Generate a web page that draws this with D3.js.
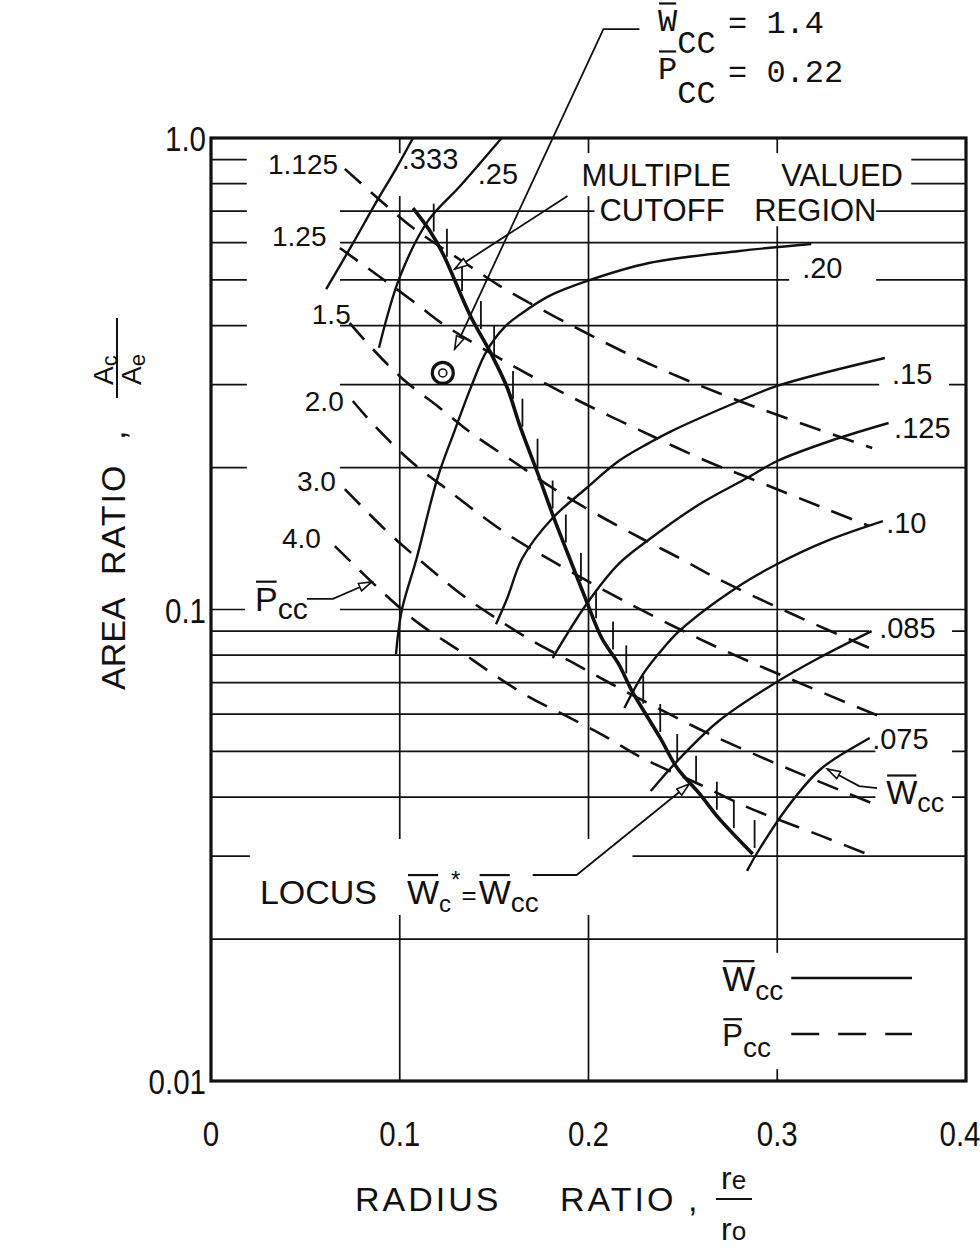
<!DOCTYPE html>
<html>
<head>
<meta charset="utf-8">
<script src="https://cdn.jsdelivr.net/npm/d3@7"></script>
<style>
body { margin: 0; background: #fff; }
text { font-family: "Liberation Sans", Arial, sans-serif; fill: #111; }
.mono { font-family: "Liberation Mono", "Courier New", monospace; }
</style>
</head>
<body>
<div id="chart"></div>
<script>
// ---- axes / grid ----
const xTicks = [0, 0.1, 0.2, 0.3, 0.4];
const xTickLabels = ["0", "0.1", "0.2", "0.3", "0.4"];
const yTicks = [1, 0.1, 0.01];
const yTickLabels = ["1.0", "0.1", "0.01"];
const hGrid = [0.9, 0.8, 0.7, 0.6, 0.5, 0.4, 0.3, 0.2, 0.1, 0.09, 0.08, 0.07, 0.06, 0.05, 0.04, 0.03, 0.02];
const vGrid = [0.1, 0.2, 0.3];

// ---- locus W*c = Wcc ----
const locusX = [0.107, 0.116, 0.123, 0.137, 0.149, 0.157, 0.164, 0.173, 0.181, 0.192, 0.199, 0.207, 0.216, 0.223, 0.238, 0.247, 0.259, 0.269, 0.287];
const locusY = [0.71, 0.635, 0.567, 0.423, 0.345, 0.295, 0.243, 0.195, 0.159, 0.1225, 0.104, 0.087, 0.0766, 0.0672, 0.0534, 0.0461, 0.0406, 0.0361, 0.0303];
const locusTickX = [0.118, 0.125, 0.133, 0.143, 0.150, 0.160, 0.165, 0.173, 0.181, 0.188, 0.196, 0.204, 0.213, 0.220, 0.229, 0.238, 0.247, 0.257, 0.268, 0.277, 0.288];

// ---- Wcc curves (solid) ----
const wccNames = [".333", ".25", ".20", ".15", ".125", ".10", ".085", ".075"];
const w333X = [0.061, 0.075, 0.087, 0.098, 0.107];
const w333Y = [0.478, 0.596, 0.725, 0.86, 1.0];
const w25X = [0.089, 0.100, 0.115, 0.132, 0.154];
const w25Y = [0.359, 0.507, 0.667, 0.791, 1.0];
const w20X = [0.098, 0.101, 0.109, 0.120, 0.129, 0.138, 0.146, 0.156, 0.164, 0.179, 0.199, 0.232, 0.280, 0.318];
const w20Y = [0.0804, 0.0993, 0.1286, 0.190, 0.239, 0.298, 0.353, 0.399, 0.423, 0.462, 0.497, 0.543, 0.576, 0.596];
const w15X = [0.151, 0.157, 0.165, 0.181, 0.199, 0.216, 0.232, 0.244, 0.280, 0.300, 0.357];
const w15Y = [0.0931, 0.1058, 0.1286, 0.1563, 0.181, 0.2065, 0.2254, 0.239, 0.2768, 0.298, 0.3415];
const w125X = [0.181, 0.199, 0.216, 0.231, 0.259, 0.284, 0.300, 0.328, 0.359];
const w125Y = [0.0789, 0.1027, 0.1249, 0.1397, 0.1674, 0.190, 0.2065, 0.2277, 0.2486];
const w10X = [0.219, 0.229, 0.238, 0.248, 0.278, 0.300, 0.326, 0.356];
const w10Y = [0.0618, 0.073, 0.0813, 0.090, 0.111, 0.1249, 0.1397, 0.154];
const w085X = [0.233, 0.247, 0.269, 0.298, 0.322, 0.350];
const w085Y = [0.0412, 0.0477, 0.058, 0.0695, 0.0789, 0.090];
const w075X = [0.284, 0.289, 0.305, 0.322, 0.331, 0.349];
const w075Y = [0.0279, 0.0303, 0.0379, 0.0455, 0.0484, 0.0534];
const wccLabelX = [0.1011, 0.1413, 0.3132, 0.3608, 0.3619, 0.3577, 0.354, 0.3503];
const wccLabelY = [0.86, 0.799, 0.505, 0.3008, 0.231, 0.1453, 0.087, 0.0506];

// ---- Pcc curves (dashed) ----
const pccNames = ["1.125", "1.25", "1.5", "2.0", "3.0", "4.0"];
const p1125X = [0.0709, 0.0894, 0.1079, 0.1354, 0.1566, 0.1937, 0.2323, 0.2799, 0.3503];
const p1125Y = [0.86, 0.739, 0.641, 0.5405, 0.476, 0.3954, 0.3317, 0.2768, 0.220];
const p125X = [0.0683, 0.091, 0.109, 0.1228, 0.1582, 0.1847, 0.2058, 0.227, 0.2624, 0.2852, 0.3259, 0.3487];
const p125Y = [0.5843, 0.5023, 0.4446, 0.4033, 0.3317, 0.2906, 0.2636, 0.2402, 0.2065, 0.190, 0.1634, 0.1503];
const p15X = [0.0735, 0.0857, 0.1016, 0.1212, 0.1386, 0.1598, 0.181, 0.2042, 0.2286, 0.2481, 0.2677, 0.3079, 0.3524];
const p15Y = [0.405, 0.3568, 0.3083, 0.2676, 0.2356, 0.2065, 0.181, 0.1594, 0.1411, 0.1286, 0.1166, 0.0978, 0.0817];
const p20X = [0.0751, 0.0868, 0.1069, 0.1249, 0.1434, 0.1593, 0.1788, 0.219, 0.2656, 0.3106, 0.354];
const p20Y = [0.2768, 0.245, 0.2045, 0.180, 0.158, 0.1425, 0.128, 0.1042, 0.0841, 0.0702, 0.0594];
const p30X = [0.0709, 0.0947, 0.1143, 0.1317, 0.1492, 0.1704, 0.19, 0.2122, 0.2376, 0.2672, 0.3101, 0.354];
const p30Y = [0.180, 0.1446, 0.1237, 0.1084, 0.0969, 0.0857, 0.0778, 0.0695, 0.0615, 0.0537, 0.0452, 0.0383];
const p40X = [0.0656, 0.0931, 0.1106, 0.1302, 0.1487, 0.1677, 0.1884, 0.2085, 0.2286, 0.2587, 0.2841, 0.3233, 0.3503];
const p40Y = [0.1363, 0.1068, 0.0931, 0.0825, 0.0733, 0.0655, 0.0594, 0.0539, 0.0484, 0.0426, 0.0381, 0.0331, 0.030];
const pccLabelX = [0.0302, 0.0323, 0.0534, 0.0497, 0.0455, 0.0376];
const pccLabelY = [0.839, 0.59, 0.403, 0.2636, 0.1784, 0.135];

// ---- design point and leaders (data units) ----
const pointX = 0.1228, pointY = 0.3175;
const leaderPoint = [[0.227, 1.702], [0.2079, 1.702], [0.1291, 0.3568]];
const leaderMulti = [[0.1889, 0.7536], [0.1291, 0.5275]];
const leaderLocus = [[0.1704, 0.02735], [0.1937, 0.02735], [0.2534, 0.04265]];
const leaderWcc = [[0.3529, 0.0418], [0.3434, 0.0422], [0.3265, 0.0459]];
const leaderPcc = [[0.0508, 0.1053], [0.0646, 0.1053], [0.0852, 0.1144]];

// cleared areas behind lettering [x0, x1, y0, y1]
const blanks = [
  [0.019, 0.0683, 0.187, 0.94],
  [0.018, 0.0683, 0.092, 0.109],
  [0.019, 0.371, 0.753, 0.929],
  [0.2032, 0.3524, 0.65, 0.772],
  [0.3063, 0.3524, 0.474, 0.562],
  [0.354, 0.391, 0.2837, 0.3285],
  [0.3487, 0.3926, 0.0837, 0.0969],
  [0.352, 0.3926, 0.0378, 0.0574],
  [0.0206, 0.2233, 0.0225, 0.0326],
  [0.2693, 0.3995, 0.0106, 0.0187]
];

const width = 980, height = 1249;
const svg = d3.select("#chart").append("svg")
  .attr("width", width).attr("height", height)
  .style("background", "#fff");

const x = d3.scaleLinear().domain([0, 0.4]).range([211, 966]);
const y = d3.scaleLog().domain([0.01, 1]).range([1081, 138]);

const zip = (xs, ys) => xs.map((v, i) => [v, ys[i]]);
const smooth = d3.line().x(d => x(d[0])).y(d => y(d[1])).curve(d3.curveCatmullRom.alpha(0.5));
const straight = d3.line().x(d => x(d[0])).y(d => y(d[1]));

const defs = svg.append("defs");
defs.append("marker")
  .attr("id", "arr").attr("markerUnits", "userSpaceOnUse")
  .attr("markerWidth", 16).attr("markerHeight", 12)
  .attr("refX", 14).attr("refY", 5).attr("orient", "auto")
  .append("path").attr("d", "M1,1 L14,5 L1,9 Z")
  .attr("fill", "#fff").attr("stroke", "#111").attr("stroke-width", 1.6);

// grid
svg.append("g").selectAll("line").data(hGrid).join("line")
  .attr("x1", x(0)).attr("x2", x(0.4))
  .attr("y1", d => y(d)).attr("y2", d => y(d))
  .attr("stroke", "#111").attr("stroke-width", 1.7);
svg.append("g").selectAll("line").data(vGrid).join("line")
  .attr("x1", d => x(d)).attr("x2", d => x(d))
  .attr("y1", y(1)).attr("y2", y(0.01))
  .attr("stroke", "#111").attr("stroke-width", 1.7);

svg.append("g").selectAll("rect").data(blanks).join("rect")
  .attr("x", d => x(d[0])).attr("width", d => x(d[1]) - x(d[0]))
  .attr("y", d => y(d[3])).attr("height", d => y(d[2]) - y(d[3]))
  .attr("fill", "#fff");

// Pcc dashed
const pccSeries = [zip(p1125X, p1125Y), zip(p125X, p125Y), zip(p15X, p15Y), zip(p20X, p20Y), zip(p30X, p30Y), zip(p40X, p40Y)];
svg.append("g").selectAll("path").data(pccSeries).join("path")
  .attr("d", smooth).attr("fill", "none")
  .attr("stroke", "#111").attr("stroke-width", 2.6)
  .attr("stroke-dasharray", "22,13");

// Wcc solid
const wccSeries = [zip(w333X, w333Y), zip(w25X, w25Y), zip(w20X, w20Y), zip(w15X, w15Y), zip(w125X, w125Y), zip(w10X, w10Y), zip(w085X, w085Y), zip(w075X, w075Y)];
svg.append("g").selectAll("path").data(wccSeries).join("path")
  .attr("d", smooth).attr("fill", "none")
  .attr("stroke", "#111").attr("stroke-width", 2.4);

// locus
const locus = zip(locusX, locusY);
svg.append("path").datum(locus).attr("d", smooth)
  .attr("fill", "none").attr("stroke", "#111").attr("stroke-width", 3.6);

function locusAt(v) {
  for (let i = 0; i < locusX.length - 1; i++) {
    if (v >= locusX[i] && v <= locusX[i + 1]) {
      const t = (v - locusX[i]) / (locusX[i + 1] - locusX[i]);
      return Math.pow(10, Math.log10(locusY[i]) + t * (Math.log10(locusY[i + 1]) - Math.log10(locusY[i])));
    }
  }
  return locusY[locusY.length - 1];
}
svg.append("g").selectAll("line").data(locusTickX).join("line")
  .attr("x1", d => x(d)).attr("x2", d => x(d))
  .attr("y1", d => y(locusAt(d)) - 6).attr("y2", d => y(locusAt(d)) - 34)
  .attr("stroke", "#111").attr("stroke-width", 1.8);

// leaders
[leaderPoint, leaderMulti, leaderLocus, leaderWcc, leaderPcc].forEach(pts => {
  svg.append("path").datum(pts).attr("d", straight)
    .attr("fill", "none").attr("stroke", "#111").attr("stroke-width", 1.8)
    .attr("marker-end", "url(#arr)");
});

// design point
svg.append("circle").attr("cx", x(pointX)).attr("cy", y(pointY)).attr("r", 10.5)
  .attr("fill", "#fff").attr("stroke", "#111").attr("stroke-width", 3.2);
svg.append("circle").attr("cx", x(pointX)).attr("cy", y(pointY)).attr("r", 4)
  .attr("fill", "none").attr("stroke", "#111").attr("stroke-width", 1.6);

// curve labels
svg.append("g").selectAll("text").data(wccNames).join("text")
  .attr("x", (d, i) => x(wccLabelX[i])).attr("y", (d, i) => y(wccLabelY[i]))
  .attr("font-size", 29).text(d => d);
svg.append("g").selectAll("text").data(pccNames).join("text")
  .attr("x", (d, i) => x(pccLabelX[i])).attr("y", (d, i) => y(pccLabelY[i]))
  .attr("font-size", 28).text(d => d);

// text with overbars: parts = {t, dx, dy, size, bar}
function richText(g, px, py, size, parts, cls) {
  const t = g.append("text").attr("x", px).attr("y", py).attr("font-size", size);
  if (cls) t.attr("class", cls);
  let idx = 0, base = py;
  const bars = [];
  parts.forEach(p => {
    const s = t.append("tspan").text(p.t);
    if (p.dx) s.attr("dx", p.dx);
    if (p.dy) { s.attr("dy", p.dy); base += p.dy; }
    if (p.size) s.attr("font-size", p.size);
    if (p.bar) bars.push([idx, idx + p.t.length - 1, base, p.size || size]);
    idx += p.t.length;
  });
  const node = t.node();
  bars.forEach(([a, b, bl, sz]) => {
    const ea = node.getExtentOfChar(a), eb = node.getExtentOfChar(b);
    const yb = bl - sz * 0.86;
    g.append("line").attr("x1", ea.x + 1).attr("x2", eb.x + eb.width - 1)
      .attr("y1", yb).attr("y2", yb).attr("stroke", "#111").attr("stroke-width", 2.2);
  });
  return t;
}

const ann = svg.append("g");
// multiple valued region
ann.append("text").attr("x", x(0.1963)).attr("y", y(0.791)).attr("font-size", 31).text("MULTIPLE");
ann.append("text").attr("x", x(0.3021)).attr("y", y(0.791)).attr("font-size", 31).text("VALUED");
ann.append("text").attr("x", x(0.2058)).attr("y", y(0.667)).attr("font-size", 31).text("CUTOFF");
ann.append("text").attr("x", x(0.2878)).attr("y", y(0.667)).attr("font-size", 31).text("REGION");

// typed note at top
richText(ann, 658, 31, 32, [{t: "W", bar: true}, {t: "CC", dy: 22}], "mono");
richText(ann, 728, 33, 32, [{t: "= 1.4"}], "mono");
richText(ann, 658, 79, 32, [{t: "P", bar: true}, {t: "CC", dy: 24}], "mono");
richText(ann, 728, 82, 32, [{t: "= 0.22"}], "mono");

// Wcc / Pcc pointers
richText(ann, x(0.3577), y(0.0387), 33, [{t: "W", bar: true}, {t: "cc", dy: 8, size: 27}]);
richText(ann, x(0.0233), y(0.0993), 34, [{t: "P", bar: true}, {t: "cc", dy: 8, size: 30}]);

// locus label
richText(ann, x(0.0259), y(0.0237), 34, [
  {t: "LOCUS"}, {t: "W", dx: 30, bar: true}, {t: "c", dy: 8, size: 24},
  {t: "*", dy: -24, size: 24}, {t: "=", dx: 1, dy: 16, size: 26},
  {t: "W", dx: 2, bar: true}, {t: "cc", dy: 8, size: 28}
]);

// legend
richText(ann, x(0.2709), y(0.0155), 35, [{t: "W", bar: true}, {t: "cc", dy: 9, size: 28}]);
richText(ann, x(0.2709), y(0.01187), 31, [{t: "P", bar: true}, {t: "cc", dy: 11, size: 28}]);
ann.append("line").attr("x1", x(0.3074)).attr("x2", x(0.3714))
  .attr("y1", y(0.01654)).attr("y2", y(0.01654))
  .attr("stroke", "#111").attr("stroke-width", 2.6);
ann.append("line").attr("x1", x(0.3074)).attr("x2", x(0.3714))
  .attr("y1", y(0.01258)).attr("y2", y(0.01258))
  .attr("stroke", "#111").attr("stroke-width", 2.6).attr("stroke-dasharray", "28,19");

// frame
svg.append("rect").attr("x", x(0)).attr("y", y(1))
  .attr("width", x(0.4) - x(0)).attr("height", y(0.01) - y(1))
  .attr("fill", "none").attr("stroke", "#111").attr("stroke-width", 3.2);

// tick labels (lettering is narrow, so compress horizontally)
svg.append("g").selectAll("text").data(xTicks).join("text")
  .attr("transform", d => `translate(${Math.min(x(d), 960)},1146) scale(0.82,1)`)
  .attr("text-anchor", "middle")
  .attr("font-size", 36).text((d, i) => xTickLabels[i]);
svg.append("g").selectAll("text").data(yTicks).join("text")
  .attr("transform", d => `translate(${x(0) - 5},${y(d) + 13}) scale(0.82,1)`)
  .attr("text-anchor", "end")
  .attr("font-size", 36).text((d, i) => yTickLabels[i]);

// x title
const xt = svg.append("g");
xt.append("text").attr("x", 355).attr("y", 1211).attr("font-size", 34).attr("letter-spacing", 3).text("RADIUS");
xt.append("text").attr("x", 560).attr("y", 1211).attr("font-size", 34).attr("letter-spacing", 3).text("RATIO");
xt.append("text").attr("x", 688).attr("y", 1211).attr("font-size", 34).text(",");
richText(xt, 721, 1189, 32, [{t: "r"}, {t: "e", size: 26}]);
xt.append("line").attr("x1", 716).attr("x2", 752).attr("y1", 1199).attr("y2", 1199)
  .attr("stroke", "#111").attr("stroke-width", 2);
richText(xt, 721, 1240, 32, [{t: "r"}, {t: "o", size: 26}]);

// y title (rotated)
const yt = svg.append("g").attr("transform", "translate(125,690) rotate(-90)");
yt.append("text").attr("x", 0).attr("y", 0).attr("font-size", 34).text("AREA");
yt.append("text").attr("x", 115).attr("y", 0).attr("font-size", 34).attr("letter-spacing", 2).text("RATIO");
yt.append("text").attr("x", 250).attr("y", 0).attr("font-size", 34).text(",");
richText(yt, 305, -12, 28, [{t: "A"}, {t: "c", dy: 4, size: 22}]);
yt.append("line").attr("x1", 292).attr("x2", 372).attr("y1", -8).attr("y2", -8)
  .attr("stroke", "#111").attr("stroke-width", 2);
richText(yt, 305, 16, 28, [{t: "A"}, {t: "e", dy: 4, size: 22}]);
</script>
</body>
</html>
